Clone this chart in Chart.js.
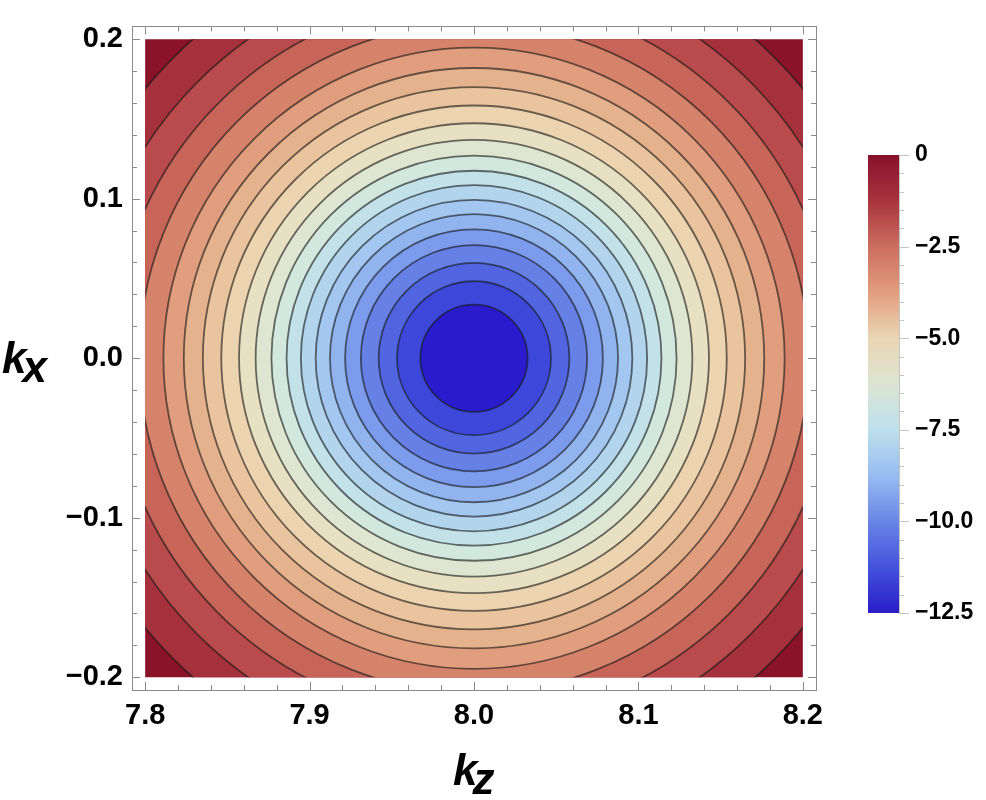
<!DOCTYPE html>
<html>
<head>
<meta charset="utf-8">
<script src="https://cdn.jsdelivr.net/npm/chart.js@4.4.1/dist/chart.umd.min.js"></script>
<style>
  html, body { margin: 0; padding: 0; background: #fff; }
  #wrap { position: relative; width: 986px; height: 800px; }
  #plot { position: absolute; left: 0; top: 0; }
  #bar { position: absolute; left: 830px; top: 0; }
</style>
</head>
<body>
<div id="wrap">
  <canvas id="plot" width="986" height="800"></canvas>
  <canvas id="bar" width="156" height="800"></canvas>
</div>
<script>
// centre of the rings and the plotted window
const centerKz = 8.0;
const centerKx = 0.0;
const kzRange = [7.8, 8.2];
const kxRange = [-0.2, 0.2];

// radius of each contour line, inner to outer
const contourRadii = [0.0326, 0.0468, 0.0580, 0.0688, 0.0784, 0.0876, 0.0963, 0.1053, 0.1140, 0.1232,
                      0.1328, 0.1429, 0.1537, 0.1649, 0.1765, 0.1889, 0.2036, 0.2196, 0.2377, 0.2586];
// the last band runs out past the corners
const cornerRadius = 0.30;

// fill of each band, inner disk to corner
const bandColors = ['#2a1ccc', '#3d48da', '#5165e1', '#6680e6', '#7c9bec', '#91b4ef', '#a3c7f0',
                    '#b2d5ed', '#c2e1e8', '#d2e7de', '#dee5d0', '#e8e0c3', '#ecd4b1', '#e9c49e',
                    '#e5b28e', '#e09e7f', '#d6836c', '#c86559', '#b94b4d', '#a5313d', '#8a1329'];

// colour bar
const cbMin = -12.5;
const cbMax = 0;
const cbStops = [0, -1.25, -2.5, -3.75, -5.0, -6.25, -7.5, -8.75, -10.0, -11.25, -12.5];
const cbColors = ['#87112d', '#a8343e', '#cb6e5f', '#e29d7d', '#ead6b4', '#dce4d2', '#bee0ec',
                  '#98bcf0', '#6985e6', '#4452dc', '#2a1cc8'];
const cbMajor = [0, -2.5, -5.0, -7.5, -10.0, -12.5];
const cbMinorStep = 0.5;

// tick labels
const xMajor = [7.8, 7.9, 8.0, 8.1, 8.2];
const yMajor = [-0.2, -0.1, 0.0, 0.1, 0.2];
const minorStep = 0.02;

const fontFam = "'Liberation Sans', Arial, sans-serif";

function signed(v, digits) {
  if (Math.abs(v) < 1e-9) return (0).toFixed(digits);
  return (v < 0 ? '\u2212' : '') + Math.abs(v).toFixed(digits);
}

// rings drawn outer first so the smaller ones sit on top
const rings = [];
rings.push({ x: centerKz, y: centerKx, ring: cornerRadius, color: bandColors[bandColors.length - 1] });
for (let i = contourRadii.length - 1; i >= 0; i--) {
  rings.push({ x: centerKz, y: centerKx, ring: contourRadii[i], color: bandColors[i] });
}

const framePlugin = {
  id: 'frame',
  beforeDatasetsDraw(chart) {
    const { ctx, scales: { x, y } } = chart;
    const l = x.getPixelForValue(kzRange[0]), r = x.getPixelForValue(kzRange[1]);
    const t = y.getPixelForValue(kxRange[1]), b = y.getPixelForValue(kxRange[0]);
    ctx.save();
    ctx.beginPath();
    ctx.rect(l, t, r - l, b - t);
    ctx.clip();
  },
  afterDatasetsDraw(chart) {
    chart.ctx.restore();
  },
  afterDraw(chart) {
    const { ctx, chartArea: a, scales: { x, y } } = chart;
    ctx.save();
    ctx.strokeStyle = '#8a8a8a';
    ctx.lineWidth = 1;
    ctx.strokeRect(Math.round(a.left) + 0.5, Math.round(a.top) + 0.5,
                   Math.round(a.right - a.left), Math.round(a.bottom - a.top));
    // inward ticks on all four sides
    ctx.beginPath();
    for (let i = 0; i <= 20; i++) {
      const len = i % 5 === 0 ? 8 : 5;
      const px = Math.round(x.getPixelForValue(kzRange[0] + i * minorStep)) + 0.5;
      ctx.moveTo(px, a.bottom); ctx.lineTo(px, a.bottom - len);
      ctx.moveTo(px, a.top); ctx.lineTo(px, a.top + len);
      const py = Math.round(y.getPixelForValue(kxRange[0] + i * minorStep)) + 0.5;
      ctx.moveTo(a.left, py); ctx.lineTo(a.left + len, py);
      ctx.moveTo(a.right, py); ctx.lineTo(a.right - len, py);
    }
    ctx.stroke();

    // axis titles with subscripts
    ctx.fillStyle = '#000';
    ctx.font = 'italic bold 44px ' + fontFam;
    ctx.textBaseline = 'alphabetic';
    ctx.textAlign = 'left';
    const kw = ctx.measureText('k').width;
    const y0 = y.getPixelForValue(centerKx);
    ctx.fillText('k', 2, y0 + 15);
    ctx.fillText('x', 2 + kw - 4, y0 + 24);
    const cx = x.getPixelForValue(centerKz);
    ctx.fillText('k', cx - 21, 785);
    ctx.fillText('z', cx - 21 + kw - 5, 794);
    ctx.restore();
  }
};

// pixel radius of a ring, measured on the kz scale
function ringPixels(c) {
  const xs = c.chart.scales.x;
  if (!xs || !c.raw) return 0;
  return Math.abs(xs.getPixelForValue(centerKz + c.raw.ring) - xs.getPixelForValue(centerKz));
}

new Chart(document.getElementById('plot'), {
  type: 'scatter',
  data: {
    datasets: [{
      data: rings,
      showLine: false,
      pointBackgroundColor: c => c.raw ? c.raw.color : '#fff',
      pointBorderColor: c => c.raw && c.raw.ring === cornerRadius ? 'rgba(0,0,0,0)' : 'rgba(25,25,25,0.62)',
      pointBorderWidth: 1.8,
      pointRadius: ringPixels,
      clip: false
    }]
  },
  options: {
    responsive: false,
    animation: false,
    events: [],
    layout: { padding: { top: 6, right: 170, left: 0, bottom: 0 } },
    plugins: { legend: { display: false }, tooltip: { enabled: false } },
    scales: {
      x: {
        type: 'linear', min: 7.792, max: 8.208,
        afterBuildTicks: s => { s.ticks = xMajor.map(v => ({ value: v })); },
        afterFit: s => { s.height = 110; },
        grid: { display: false, drawTicks: false },
        border: { display: false },
        ticks: {
          padding: 9, color: '#000', autoSkip: false, maxRotation: 0,
          font: { family: fontFam, size: 29, weight: 'bold' },
          callback: v => signed(v, 1)
        }
      },
      y: {
        type: 'linear', min: -0.208, max: 0.208,
        afterBuildTicks: s => { s.ticks = yMajor.map(v => ({ value: v })); },
        afterFit: s => { s.width = 132; },
        grid: { display: false, drawTicks: false },
        border: { display: false },
        ticks: {
          padding: 9, color: '#000', autoSkip: false,
          font: { family: fontFam, size: 29, weight: 'bold' },
          callback: v => signed(v, 1)
        }
      }
    }
  },
  plugins: [framePlugin]
});

function barGradient(chart) {
  const { ctx, chartArea, scales } = chart;
  if (!chartArea) return cbColors[0];
  const y = scales.y;
  const top = y.getPixelForValue(cbMax), bottom = y.getPixelForValue(cbMin);
  const g = ctx.createLinearGradient(0, top, 0, bottom);
  cbStops.forEach((v, i) => g.addColorStop((cbMax - v) / (cbMax - cbMin), cbColors[i]));
  return g;
}

const cbTicksPlugin = {
  id: 'cbticks',
  afterDraw(chart) {
    const { ctx, chartArea: a, scales: { y } } = chart;
    ctx.save();
    ctx.strokeStyle = '#c4c4c4';
    ctx.lineWidth = 1;
    ctx.beginPath();
    const n = Math.round((cbMax - cbMin) / cbMinorStep);
    for (let i = 0; i <= n; i++) {
      const v = cbMax - i * cbMinorStep;
      const len = cbMajor.includes(v) ? 10 : 5;
      const py = Math.round(y.getPixelForValue(v)) + 0.5;
      ctx.moveTo(a.right, py); ctx.lineTo(a.right + len, py);
    }
    ctx.stroke();
    ctx.restore();
  }
};

new Chart(document.getElementById('bar'), {
  type: 'bar',
  data: {
    labels: [''],
    datasets: [{
      data: [[cbMin, cbMax]],
      backgroundColor: c => barGradient(c.chart),
      borderWidth: 0,
      barPercentage: 1,
      categoryPercentage: 1
    }]
  },
  options: {
    responsive: false,
    animation: false,
    events: [],
    layout: { padding: { left: 38, top: 155, bottom: 187, right: 0 } },
    plugins: { legend: { display: false }, tooltip: { enabled: false } },
    scales: {
      x: { display: false },
      y: {
        position: 'right', min: cbMin, max: cbMax,
        afterBuildTicks: s => { s.ticks = cbMajor.map(v => ({ value: v })); },
        afterFit: s => { s.width = 87; },
        grid: { display: false, drawTicks: false },
        border: { display: true, color: '#c4c4c4' },
        ticks: {
          padding: 16, color: '#000', autoSkip: false,
          font: { family: fontFam, size: 23, weight: 'bold' },
          callback: v => v === 0 ? '0' : signed(v, 1)
        }
      }
    }
  },
  plugins: [cbTicksPlugin]
});
</script>
</body>
</html>
